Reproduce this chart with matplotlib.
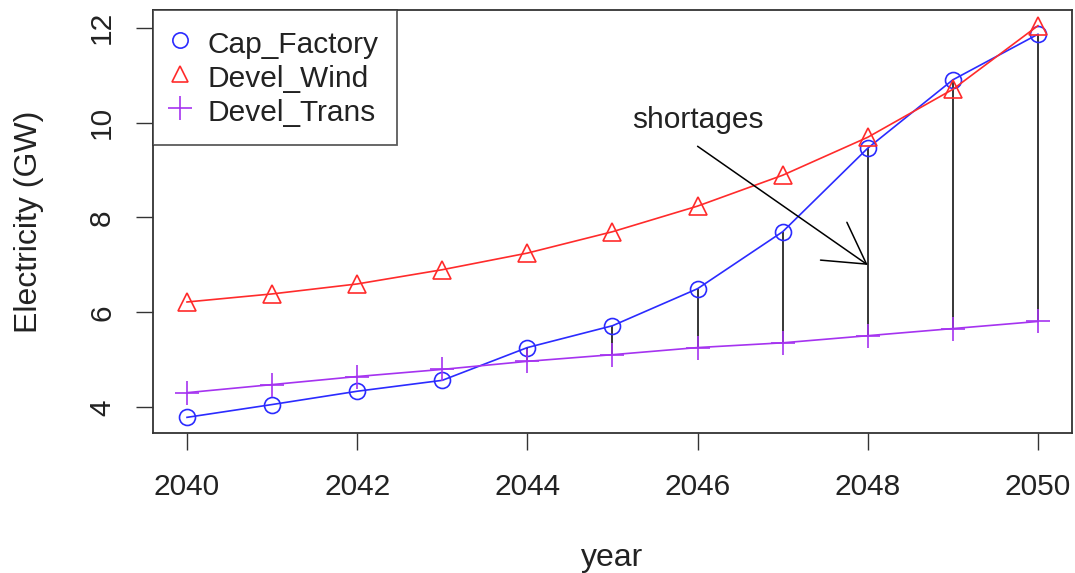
import matplotlib
matplotlib.use("Agg")
import matplotlib.pyplot as plt
import numpy as np

years = [2040, 2041, 2042, 2043, 2044, 2045, 2046, 2047, 2048, 2049, 2050]
cap_factory = [3.79, 4.06, 4.34, 4.57, 5.26, 5.72, 6.50, 7.70, 9.46, 10.90, 11.86]
devel_wind = [6.22, 6.39, 6.60, 6.90, 7.25, 7.70, 8.24, 8.89, 9.69, 10.70, 12.04]
devel_trans = [4.31, 4.48, 4.65, 4.80, 4.97, 5.11, 5.26, 5.36, 5.51, 5.66, 5.81]

series_names = ["Cap_Factory", "Devel_Wind", "Devel_Trans"]
x_ticks = [2040, 2042, 2044, 2046, 2048, 2050]
y_ticks = [4, 6, 8, 10, 12]

plt.rcParams["font.family"] = ["Liberation Sans", "DejaVu Sans"]

fig = plt.figure(figsize=(10.75, 5.73), dpi=100)
ax = fig.add_axes([0.1423, 0.2443, 0.9972 - 0.1423, 0.9825 - 0.2443])

x = np.array(years)
cap = np.array(cap_factory)
wind = np.array(devel_wind)
trans = np.array(devel_trans)

blue = "#2B2BFF"
red = "#FF2B2B"
purple = "#A533F0"

# shortage segments where factory capacity exceeds transmission
short = cap > trans
ax.vlines(x[short], trans[short], cap[short], color="black", lw=1.1, zorder=1)

ax.plot(x, cap, color=blue, lw=1.2, marker="o", ms=11.5, mfc="none",
        mew=1.2, zorder=3)
ax.plot(x, wind, color=red, lw=1.2, marker="^", ms=13.5, mfc="none",
        mew=1.2, zorder=3)
ax.plot(x, trans, color=purple, lw=1.2, marker="+", ms=17,
        mew=1.2, zorder=3)

# axis ranges with 4% padding on each side
xr = x.max() - x.min()
allv = np.concatenate([cap, wind, trans])
yr = allv.max() - allv.min()
ax.set_xlim(x.min() - 0.04 * xr, x.max() + 0.04 * xr)
ax.set_ylim(allv.min() - 0.04 * yr, allv.max() + 0.04 * yr)

ax.set_xticks(x_ticks)
ax.set_yticks(y_ticks)
ax.set_xticklabels([str(t) for t in x_ticks])
ax.set_yticklabels([str(t) for t in y_ticks], rotation=90, va="center")
ax.tick_params(axis="both", direction="out", length=12.5, width=1.0,
               color="#333333", labelsize=21.5, labelcolor="#222222")
ax.tick_params(axis="x", pad=16)
ax.tick_params(axis="y", pad=14)
for s in ax.spines.values():
    s.set_linewidth(1.3)
    s.set_color("#333333")

ax.set_xlabel("year", fontsize=23, color="#222222")
ax.set_ylabel("Electricity (GW)", fontsize=23, color="#222222")
ax.xaxis.set_label_coords(0.5, -0.296)
ax.xaxis.label.set_va("center")
ax.yaxis.set_label_coords(-0.135, 0.5)
ax.yaxis.label.set_va("center")

ax.annotate("", xy=(2048, 7.0), xytext=(2046, 9.5),
            arrowprops=dict(arrowstyle="->, head_length=1.44, head_width=0.83",
                            mutation_scale=20, color="black", lw=1.1,
                            shrinkA=0, shrinkB=0))
ax.text(2046, 10.05, "shortages", fontsize=21.5, ha="center", va="center",
        color="#222222")

handles = [
    plt.Line2D([], [], ls="none", marker="o", ms=11, mfc="none", mew=1.2,
               color=blue),
    plt.Line2D([], [], ls="none", marker="^", ms=12, mfc="none", mew=1.2,
               color=red),
    plt.Line2D([], [], ls="none", marker="+", ms=17, mew=1.2,
               color=purple),
]
leg = ax.legend(handles, series_names, loc="upper left", fontsize=21.5,
                frameon=True, fancybox=False, borderaxespad=0,
                handlelength=0.6, handleheight=1.15, handletextpad=0.63,
                labelspacing=0.1, borderpad=0.6)
leg.get_frame().set_edgecolor("#333333")
leg.get_frame().set_linewidth(1.3)
for t in leg.get_texts():
    t.set_color("#222222")

fig.savefig("out.png", dpi=100)
